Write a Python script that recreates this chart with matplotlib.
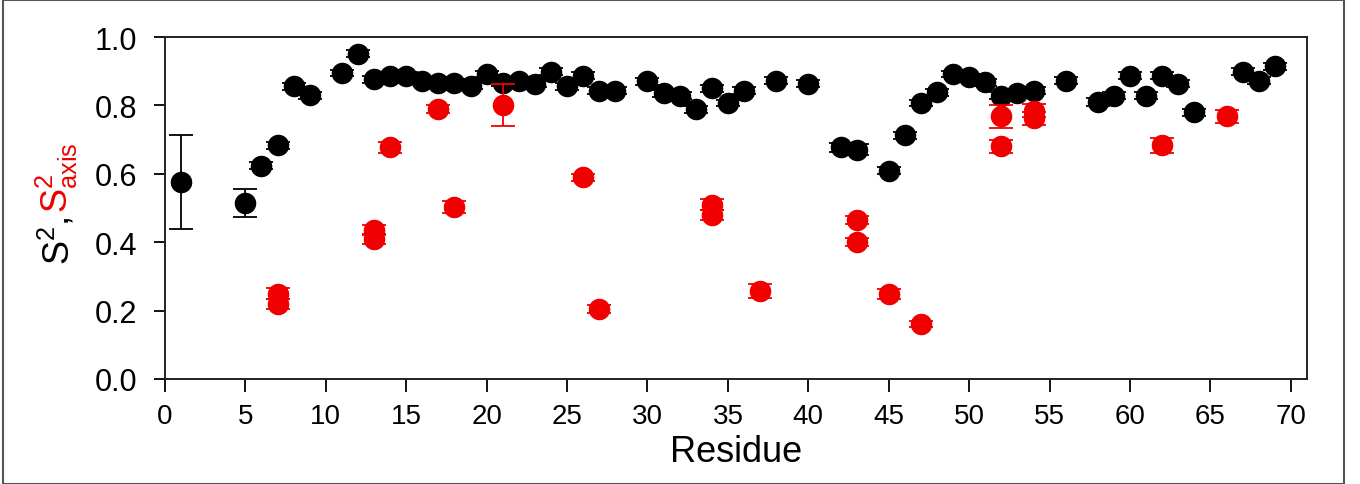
import matplotlib
matplotlib.use("Agg")
import matplotlib.pyplot as plt
from matplotlib.patches import Rectangle

plt.rcParams['font.family'] = ['Liberation Sans', 'DejaVu Sans']
plt.rcParams['mathtext.fontset'] = 'custom'
plt.rcParams['mathtext.rm'] = 'Liberation Sans'
plt.rcParams['mathtext.it'] = 'Liberation Sans'

# S2 (black) per residue
s2_res = [1, 5, 6, 7, 8, 9, 11, 12, 13, 14, 15, 16, 17, 18, 19, 20, 21, 22, 23, 24,
          25, 26, 27, 28, 30, 31, 32, 33, 34, 35, 36, 38, 40, 42, 43, 45, 46, 47, 48, 49,
          50, 51, 52, 53, 54, 56, 58, 59, 60, 61, 62, 63, 64, 67, 68, 69]
s2_val = [0.577, 0.515, 0.624, 0.684, 0.856, 0.830, 0.895, 0.951, 0.877, 0.885,
          0.887, 0.872, 0.865, 0.867, 0.858, 0.892, 0.867, 0.872, 0.863, 0.899,
          0.856, 0.887, 0.843, 0.843, 0.870, 0.836, 0.828, 0.789, 0.850, 0.807,
          0.843, 0.872, 0.863, 0.677, 0.671, 0.609, 0.713, 0.807, 0.838, 0.892,
          0.882, 0.868, 0.828, 0.836, 0.843, 0.872, 0.809, 0.828, 0.887, 0.828,
          0.887, 0.863, 0.780, 0.899, 0.872, 0.914]
s2_err = [0.137, 0.04, 0.01, 0.01, 0.01, 0.01, 0.01, 0.01, 0.01, 0.01,
          0.01, 0.01, 0.01, 0.01, 0.01, 0.01, 0.01, 0.01, 0.01, 0.01,
          0.01, 0.01, 0.01, 0.01, 0.01, 0.01, 0.01, 0.01, 0.01, 0.01,
          0.01, 0.01, 0.01, 0.012, 0.015, 0.01, 0.01, 0.01, 0.01, 0.01,
          0.01, 0.01, 0.01, 0.01, 0.01, 0.01, 0.012, 0.01, 0.01, 0.01,
          0.01, 0.01, 0.01, 0.01, 0.01, 0.01]

# S2_axis (red) per residue
sax_res = [7, 7, 13, 13, 14, 17, 18, 21, 26, 27, 34, 34, 37, 43, 43, 45, 47,
           52, 52, 54, 54, 62, 66]
sax_val = [0.250, 0.220, 0.435, 0.410, 0.677, 0.789, 0.502, 0.801, 0.590, 0.205,
           0.510, 0.480, 0.258, 0.466, 0.400, 0.249, 0.161,
           0.768, 0.680, 0.785, 0.762, 0.683, 0.768]
sax_err = [0.015, 0.015, 0.015, 0.015, 0.015, 0.012, 0.018, 0.062, 0.01, 0.012,
           0.015, 0.015, 0.02, 0.012, 0.012, 0.015, 0.008,
           0.033, 0.02, 0.02, 0.02, 0.022, 0.02]

fig = plt.figure(figsize=(13.6, 4.85), dpi=100)
ax = fig.add_axes([0.1213, 0.2165, 0.8397, 0.7051])

ax.errorbar(s2_res, s2_val, yerr=s2_err, fmt='o', color='black', ms=14.5,
            ecolor='black', elinewidth=1.3, capsize=8.5, capthick=1.3, zorder=2)
ax.errorbar(sax_res, sax_val, yerr=sax_err, fmt='o', color='#f00000', ms=14.5,
            ecolor='#f00000', elinewidth=1.3, capsize=8.5, capthick=1.3, zorder=3)

ax.set_xlim(0, 71)
ax.set_ylim(0, 1.0)
ax.set_xticks(range(0, 71, 5))
ax.set_yticks([0.0, 0.2, 0.4, 0.6, 0.8, 1.0])
ax.set_yticklabels(['0.0', '0.2', '0.4', '0.6', '0.8', '1.0'])
ax.tick_params(axis='x', direction='out', length=9, width=1.3, labelsize=20, pad=8)
ax.tick_params(axis='y', direction='out', length=8, width=1.3, labelsize=22, pad=12)
for sp in ax.spines.values():
    sp.set_linewidth(1.4)
    sp.set_color('#222222')

ax.set_xlabel('Residue', fontsize=26, labelpad=4)

# two-coloured y label
fig.text(0.042, 0.56, r'S$^2$, ', rotation=90, fontsize=26, color='black',
         ha='center', va='top')
fig.text(0.042, 0.56, r'S$^2_{\mathrm{axis}}$', rotation=90, fontsize=26,
         color='#f00000', ha='center', va='bottom')

# outer frame around the figure
fig.patches.append(Rectangle((0.002, 0.0), 0.986, 0.998, transform=fig.transFigure,
                             fill=False, edgecolor='#555555', linewidth=1.5))

fig.savefig('out.png', dpi=100)
